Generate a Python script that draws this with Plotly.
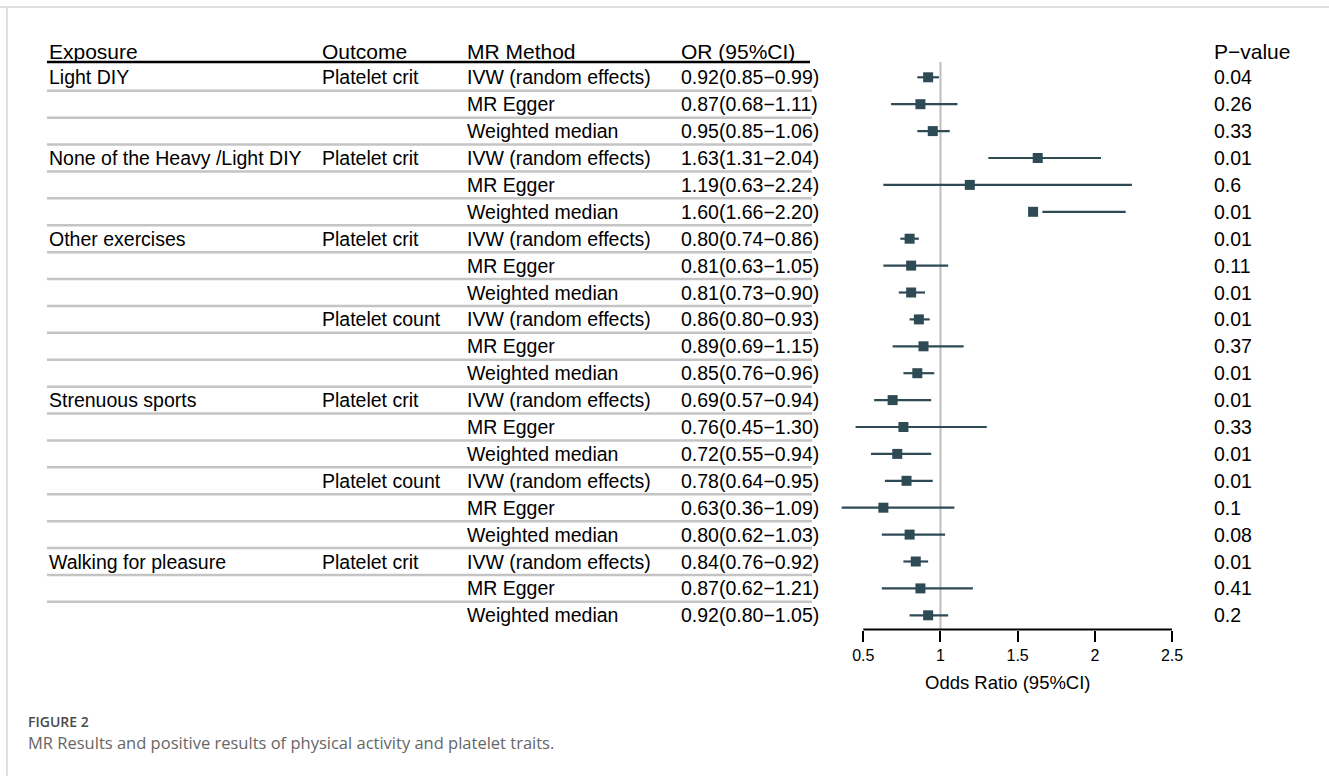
import plotly.graph_objects as go

# ---------------- data ----------------
exposure = ["Light DIY", "", "", "None of the Heavy /Light DIY", "", "",
            "Other exercises", "", "", "", "", "",
            "Strenuous sports", "", "", "", "", "",
            "Walking for pleasure", "", ""]
outcome = ["Platelet crit", "", "", "Platelet crit", "", "",
           "Platelet crit", "", "", "Platelet count", "", "",
           "Platelet crit", "", "", "Platelet count", "", "",
           "Platelet crit", "", ""]
method = ["IVW (random effects)", "MR Egger", "Weighted median"] * 7
or_est = [0.92, 0.87, 0.95, 1.63, 1.19, 1.60, 0.80, 0.81, 0.81, 0.86, 0.89, 0.85,
          0.69, 0.76, 0.72, 0.78, 0.63, 0.80, 0.84, 0.87, 0.92]
ci_low = [0.85, 0.68, 0.85, 1.31, 0.63, 1.66, 0.74, 0.63, 0.73, 0.80, 0.69, 0.76,
          0.57, 0.45, 0.55, 0.64, 0.36, 0.62, 0.76, 0.62, 0.80]
ci_high = [0.99, 1.11, 1.06, 2.04, 2.24, 2.20, 0.86, 1.05, 0.90, 0.93, 1.15, 0.96,
           0.94, 1.30, 0.94, 0.95, 1.09, 1.03, 0.92, 1.21, 1.05]
p_values = ["0.04", "0.26", "0.33", "0.01", "0.6", "0.01", "0.01", "0.11", "0.01",
            "0.01", "0.37", "0.01", "0.01", "0.33", "0.01", "0.01", "0.1", "0.08",
            "0.01", "0.41", "0.2"]
headers = ["Exposure", "Outcome", "MR Method", "OR (95%CI)", "P\u2212value"]
tick_vals = [0.5, 1, 1.5, 2, 2.5]
tick_text = ["0.5", "1", "1.5", "2", "2.5"]
x_title = "Odds Ratio (95%CI)"
caption_label = "FIGURE 2"
caption_text = "MR Results and positive results of physical activity and platelet traits."

# ---------------- geometry ----------------
W, H = 1329, 776
FONT = "Liberation Sans, Arial, sans-serif"
CAP_FONT = "Open Sans, sans-serif"
DARK = "#2E4A55"
n = len(or_est)
rows = list(range(n))

row0_px, pitch = 77.3, 26.9
def row_of(px):
    return (px - row0_px) / pitch
def xp(px):
    return px / W
def yp(px):
    return 1 - px / H

unit = (1172 - 863.3) / 2.0
x_lo = 0.5 - 863.3 / unit
x_hi = 2.5 + (W - 1172) / unit
axis_px = 629.5

fig = go.Figure()

cx, cy = [], []
for i in rows:
    cx += [ci_low[i], ci_high[i], None]
    cy += [i, i, None]
fig.add_trace(go.Scatter(x=cx, y=cy, mode="lines",
                         line=dict(color=DARK, width=2.2),
                         hoverinfo="skip", showlegend=False))
fig.add_trace(go.Scatter(x=or_est, y=rows, mode="markers",
                         marker=dict(symbol="square", size=10, color=DARK),
                         showlegend=False))

shapes = []
shapes.append(dict(type="line", xref="paper", yref="paper", x0=0, x1=1,
                   y0=yp(7), y1=yp(7), line=dict(color="#d6d6d6", width=1.5)))
shapes.append(dict(type="line", xref="paper", yref="paper", x0=xp(7), x1=xp(7),
                   y0=yp(7), y1=0, line=dict(color="#d6d6d6", width=1.5)))
for i in range(n - 1):
    shapes.append(dict(type="line", xref="paper", yref="y", x0=xp(47), x1=xp(812),
                       y0=i + 0.5, y1=i + 0.5, line=dict(color="#c4c4c4", width=2.5)))
shapes.append(dict(type="line", xref="paper", yref="y", x0=xp(47), x1=xp(810),
                   y0=row_of(62), y1=row_of(62), line=dict(color="black", width=2.5)))
shapes.append(dict(type="line", xref="x", yref="y", x0=1, x1=1,
                   y0=row_of(62), y1=row_of(axis_px), line=dict(color="#bdbdbd", width=2),
                   layer="below"))
shapes.append(dict(type="line", xref="x", yref="paper", x0=0.5, x1=2.5,
                   y0=yp(axis_px), y1=yp(axis_px), line=dict(color="black", width=2)))

ann = []
col_px = [47, 320, 465, 679, 1212]
header_px = 51.5
for h, cpx in zip(headers, col_px):
    ann.append(dict(text=h, x=xp(cpx), y=row_of(header_px), xref="paper", yref="y",
                    xanchor="left", yanchor="middle", showarrow=False,
                    font=dict(family=FONT, size=21, color="black")))
for i in rows:
    or_txt = f"{or_est[i]:.2f}({ci_low[i]:.2f}\u2212{ci_high[i]:.2f})"
    for txt, cpx in zip([exposure[i], outcome[i], method[i], or_txt, p_values[i]], col_px):
        if txt:
            ann.append(dict(text=txt, x=xp(cpx), y=i, xref="paper", yref="y",
                            xanchor="left", yanchor="middle", showarrow=False,
                            font=dict(family=FONT, size=19.5, color="black")))
ann.append(dict(text=x_title, x=xp(1008), y=yp(682), xref="paper", yref="paper",
                xanchor="center", yanchor="middle", showarrow=False,
                font=dict(family=FONT, size=18.5, color="black")))
ann.append(dict(text=caption_label, x=xp(27), y=yp(721), xref="paper", yref="paper",
                xanchor="left", yanchor="middle", showarrow=False, borderpad=0,
                font=dict(family=CAP_FONT, size=14, color="#4a4a4a", weight=600)))
ann.append(dict(text=caption_text, x=xp(27), y=yp(742), xref="paper", yref="paper",
                xanchor="left", yanchor="middle", showarrow=False, borderpad=0,
                font=dict(family=CAP_FONT, size=16.5, color="#666666")))

fig.update_layout(
    width=W, height=H, margin=dict(l=0, r=0, t=0, b=0),
    paper_bgcolor="white", plot_bgcolor="white",
    shapes=shapes, annotations=ann, showlegend=False,
    xaxis=dict(range=[x_lo, x_hi], domain=[0, 1], anchor="free", position=yp(axis_px),
               tickvals=tick_vals, ticktext=tick_text, ticks="outside", ticklen=11,
               tickwidth=2, tickcolor="black", showgrid=False, zeroline=False,
               showline=False, tickfont=dict(family=FONT, size=16, color="black"),
               fixedrange=True),
    yaxis=dict(range=[row_of(H), row_of(0)], domain=[0, 1], visible=False,
               showgrid=False, zeroline=False, fixedrange=True),
)

fig.write_html("out.html", config={"displayModeBar": False},
               post_script="document.body.style.margin='0';document.body.style.overflow='hidden';")
